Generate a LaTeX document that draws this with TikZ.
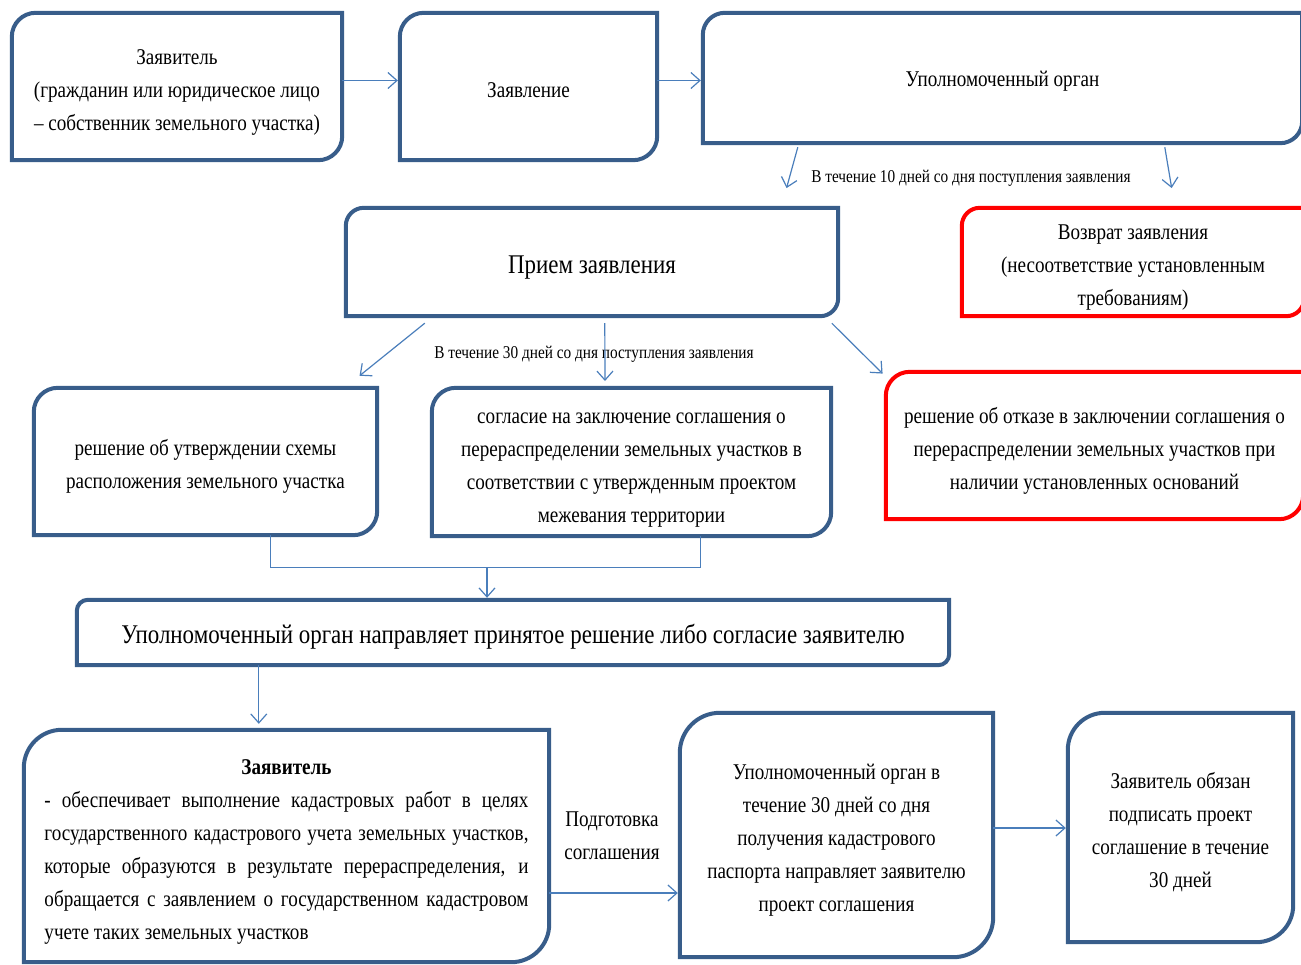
\documentclass[tikz,border=0pt]{standalone}
\usepackage{fontspec}
\setmainfont{Liberation Serif}[FakeStretch=0.85]
\usetikzlibrary{positioning,arrows.meta}

\definecolor{frameblue}{HTML}{385D8A}
\definecolor{arrowblue}{HTML}{4A7EBB}
\definecolor{framered}{HTML}{FF0000}

\newcommand{\fst}{\rule{0pt}{26pt}}

\tikzset{
  box/.style={inner sep=0pt, align=center, font=\fontsize{22.5}{33}\selectfont,
    execute at begin node={\rule{0pt}{22pt}}},
  bigbox/.style={inner sep=0pt, align=center, font=\fontsize{27}{36}\selectfont,
    execute at begin node={\rule{0pt}{28pt}}},
  note/.style={inner sep=0pt, align=center, font=\fontsize{18}{22}\selectfont},
  frm/.style={line width=4pt, draw=frameblue},
  redfrm/.style={line width=4pt, draw=framered},
  arr/.style={draw=arrowblue, line width=1.2pt, -{Straight Barb[length=9pt,width=16pt]}, shorten >=2pt},
  conn/.style={draw=arrowblue, line width=1.2pt}
}

\begin{document}
\begin{tikzpicture}[x=1pt,y=-1pt]
  \useasboundingbox (0,0) rectangle (1301,964);

  % top row
  \node[box, minimum width=330pt, minimum height=147pt] (app) at (177,86.5)
    {\fst Заявитель\\(гражданин или юридическое лицо\\– собственник земельного участка)};
  \node[box, minimum width=257pt, minimum height=147pt] (stmt) at (528.5,86.5) {Заявление};
  \node[box, minimum width=599pt, minimum height=130pt] (org) at (1002.5,78) {Уполномоченный орган};

  % second row
  \node[bigbox, minimum width=492pt, minimum height=108pt] (recv) at (592,262) {Прием заявления};
  \node[box, minimum width=342pt, minimum height=108pt] (ret) at (1133,262)
    {\fst Возврат заявления\\(несоответствие установленным\\требованиям)};

  % decisions
  \node[box, minimum width=343pt, minimum height=147pt] (appr) at (205.5,461.5)
    {\fst решение об утверждении схемы\\расположения земельного участка};
  \node[box, minimum width=399pt, minimum height=148pt] (cons) at (631.5,462)
    {\fst согласие на заключение соглашения о\\перераспределении земельных участков в\\соответствии с утвержденным проектом\\межевания территории};
  \node[box, minimum width=417pt, minimum height=147pt] (ref) at (1094.5,445.5)
    {\fst решение об отказе в заключении соглашения о\\перераспределении земельных участков при\\наличии установленных оснований};

  \node[bigbox, font=\fontsize{27}{34}\selectfont, minimum width=872pt, minimum height=65pt] (send) at (513,632.5)
    {Уполномоченный орган направляет принятое решение либо согласие заявителю};

  % bottom row
  \node[box, minimum width=525pt, minimum height=232pt] (app2) at (286.5,846)
    {\fst\textbf{Заявитель}\\
     \makebox[484pt][s]{- обеспечивает выполнение кадастровых работ в целях}\\
     \makebox[484pt][s]{государственного кадастрового учета земельных участков,}\\
     \makebox[484pt][s]{которые образуются в результате перераспределения, и}\\
     \makebox[484pt][s]{обращается с заявлением о государственном кадастровом}\\
     \makebox[484pt][l]{учете таких земельных участков}};
  \node[box, minimum width=313pt, minimum height=244pt] (proj) at (836.5,835)
    {\fst Уполномоченный орган в\\течение 30 дней со дня\\получения кадастрового\\паспорта направляет заявителю\\проект соглашения};
  \node[box, minimum width=225pt, minimum height=229pt] (sign) at (1180.5,827.5)
    {\fst Заявитель обязан\\подписать проект\\соглашение в течение\\30 дней};

  % frames
  \foreach \n/\rad in {app/24,stmt/24,org/22,recv/18,appr/24,cons/24,send/11,app2/38,proj/40,sign/37}
    \draw[frm] (\n.west) [rounded corners=\rad pt] -- (\n.north west) -- (\n.north) [sharp corners]
      -- (\n.north east) -- (\n.east) [rounded corners=\rad pt] -- (\n.south east) -- (\n.south)
      [sharp corners] -- (\n.south west) -- cycle;
  \foreach \n/\rad in {ret/18,ref/24}
    \draw[redfrm] (\n.west) [rounded corners=\rad pt] -- (\n.north west) -- (\n.north) [sharp corners]
      -- (\n.north east) -- (\n.east) [rounded corners=\rad pt] -- (\n.south east) -- (\n.south)
      [sharp corners] -- (\n.south west) -- cycle;

  % labels
  \node[note] (lbl10) at (971,178) {В течение 10 дней со дня поступления заявления};
  \node[note] (lbl30) at (594,354) {В течение 30 дней со дня поступления заявления};
  \node[note, font=\fontsize{22.5}{33}\selectfont] (prep) at (612,836) {Подготовка\\соглашения};

  % free ends
  \coordinate (e1) at (786,190);
  \coordinate (e2) at (1172,190);
  \coordinate (e3) at (358,377);
  \coordinate (e4) at (605,383);
  \coordinate (e5) at (884,375);
  \coordinate (jn) at (487,567);

  % arrows
  \draw[arr] ([yshift=6pt]app.east) -- ([yshift=6pt]app.east -| stmt.west);
  \draw[arr] ([yshift=6pt]stmt.east) -- ([yshift=6pt]stmt.east -| org.west);
  \draw[arr] ([xshift=95pt,yshift=-4pt]org.south west) -- (e1);
  \draw[arr] ([xshift=462pt,yshift=-4pt]org.south west) -- (e2);
  \draw[arr] ([xshift=79pt,yshift=-7pt]recv.south west) -- (e3);
  \draw[arr] ([xshift=259pt,yshift=-7pt]recv.south west) -- (e4);
  \draw[arr] ([xshift=486pt,yshift=-7pt]recv.south west) -- (e5);
  \draw[conn] ([xshift=237pt]appr.south west) -- ++(0,32) -| ([xshift=269pt]cons.south west);
  \draw[arr] (jn) -- (jn |- send.north);
  \draw[arr] ([xshift=182pt]send.south west) -- ([xshift=182pt,yshift=4pt]send.south west |- app2.north);
  \draw[arr] ([yshift=-47pt]app2.east) -- ([yshift=-47pt]app2.east -| proj.west);
  \draw[arr] ([yshift=7pt]proj.east) -- ([yshift=7pt]proj.east -| sign.west);
\end{tikzpicture}
\end{document}
